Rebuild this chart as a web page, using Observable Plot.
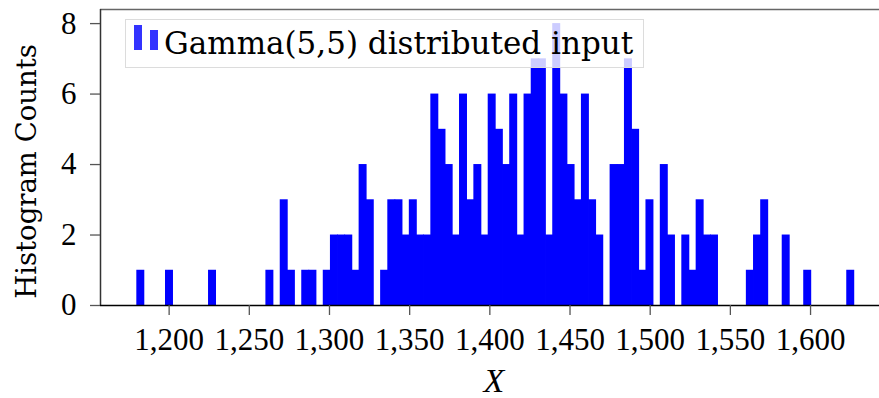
<!DOCTYPE html>
<html><head><meta charset="utf-8">
<script src="https://cdn.jsdelivr.net/npm/d3@7"></script>
<script src="https://cdn.jsdelivr.net/npm/@observablehq/plot@0.6"></script>
<style>
body{margin:0;background:#fff;}
#wrap{position:relative;width:879px;height:398px;}
#legend{position:absolute;left:125px;top:19px;width:517px;height:47px;border:1.5px solid #dcdcdc;background:rgba(255,255,255,0.8);}
#legend .sw{position:absolute;background:#3333ff;}
#legend .lab{position:absolute;left:38px;top:8px;font-family:"DejaVu Serif";font-size:31px;line-height:31px;white-space:nowrap;color:#000;}
</style>
</head><body>
<div id="wrap"></div>
<script>
// histogram counts per bin (100 equal bins)
const counts = [1,0,0,0,1,0,0,0,0,0, 1,0,0,0,0,0,0,0,1,0, 3,1,0,1,1,0,1,2,2,2, 1,4,3,0,1,3,3,2,3,2, 2,6,5,4,2,6,3,4,2,6, 5,4,6,2,6,7,7,2,8,6, 4,3,6,3,2,0,4,4,7,5, 1,3,0,4,2,0,2,1,3,2, 2,0,0,0,0,1,2,3,0,0, 2,0,0,1,0,0,0,0,0,1];
const binStart = 1180.1;
const binWidth = 4.472;
const xTicks = [1200,1250,1300,1350,1400,1450,1500,1550,1600];
const yTicks = [0,2,4,6,8];
const legendLabel = "Gamma(5,5) distributed input";
const yLabel = "Histogram Counts";
const xLabel = "X";
const xDomain = [1157.2, 1643.0];
const yDomain = [0, 8.4];

const bins = counts.map((c, i) => ({x1: binStart + i * binWidth, x2: binStart + (i + 1) * binWidth, count: c})).filter(d => d.count > 0);

const chart = Plot.plot({
  width: 879, height: 398,
  marginLeft: 100, marginRight: 0, marginTop: 9, marginBottom: 93,
  x: {domain: xDomain},
  y: {domain: yDomain},
  style: {fontFamily: "Liberation Serif", fontSize: "31px", background: "white", color: "#000", overflow: "visible"},
  marks: [
    Plot.rectY(bins, {x1: "x1", x2: "x2", y: "count", fill: "#0000ff", insetLeft: -0.4, insetRight: -0.4}),
    Plot.ruleY([yDomain[1]], {stroke: "#666", strokeWidth: 1.5}),
    Plot.ruleX([xDomain[0]], {stroke: "#333", strokeWidth: 1.5}),
    Plot.ruleY([0], {stroke: "#000", strokeWidth: 1.5}),
    Plot.axisX({ticks: xTicks, tickSize: 10, tickPadding: 12, tickFormat: d3.format(","), label: null, stroke: "#555", strokeWidth: 1.3}),
    Plot.axisY({ticks: yTicks, tickSize: 10, tickPadding: 14, label: null, stroke: "#555", strokeWidth: 1.3}),
    Plot.text([yLabel], {text: d => d, frameAnchor: "left", textAnchor: "middle", lineAnchor: "middle", dx: -73, dy: 14, rotate: -90, fontSize: 27.5, fontFamily: "DejaVu Serif", fill: "#000"}),
    Plot.text([xLabel], {text: d => d, frameAnchor: "bottom", textAnchor: "middle", dx: 4, dy: 86, fontSize: 34, fontStyle: "italic", fill: "#000"})
  ]
});
const wrap = document.getElementById("wrap");
wrap.appendChild(chart);
const lg = document.createElement("div");
lg.id = "legend";
lg.innerHTML = '<div class="sw" style="left:8px;top:5px;width:7.5px;height:25px"></div><div class="sw" style="left:24px;top:10px;width:7.5px;height:20px"></div><div class="lab"></div>';
lg.querySelector(".lab").textContent = legendLabel;
wrap.appendChild(lg);
</script>
</body></html>
